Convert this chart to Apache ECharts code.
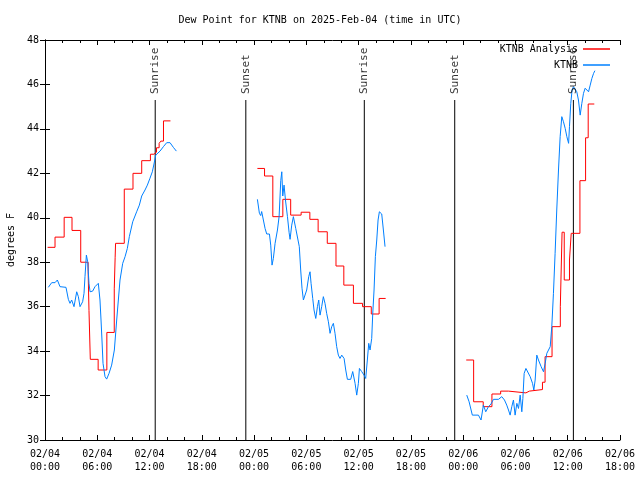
<!DOCTYPE html>
<html>
<head>
<meta charset="utf-8">
<script src="https://cdn.jsdelivr.net/npm/echarts@6/dist/echarts.min.js"></script>
<style>html,body{margin:0;padding:0;background:#fff}#c{width:640px;height:480px}</style>
</head>
<body>
<div id="c"></div>
<script>
// x values are hours since 02/04 00:00 UTC
const xTickLabels = ['02/04\n00:00','02/04\n06:00','02/04\n12:00','02/04\n18:00','02/05\n00:00','02/05\n06:00','02/05\n12:00','02/05\n18:00','02/06\n00:00','02/06\n06:00','02/06\n12:00','02/06\n18:00'];
const yTicks = [30,32,34,36,38,40,42,44,46,48];

const sunHours = [12.65, 23.05, 36.65, 47.03, 60.65];
const sunLabels = ['Sunrise','Sunset','Sunrise','Sunset','Sunrise'];
const sunLineTop = 45.3;

// KTNB Analysis (stepped)
const analysis1 = [[0.3,38.67],[1.15,39.13],[2.2,40.02],[3.1,39.43],[4.1,38.0],[4.95,37.57],[5.05,35.82],[5.2,33.63],[6.1,33.15],[7.1,34.84],[7.95,36.8],[8.05,38.2],[8.1,38.85],[9.1,41.29],[10.1,42.0],[11.1,42.57],[12.1,42.86],[12.5,42.95],[12.8,43.15],[13.1,43.35],[13.3,43.45],[13.6,44.36],[14.4,44.36]];
const analysis2 = [[24.38,42.22],[25.2,41.88],[26.15,40.05],[27.3,40.83],[28.2,40.12],[29.4,40.25],[30.4,39.93],[31.35,39.37],[32.4,38.85],[33.4,37.83],[34.3,36.97],[35.4,36.15],[36.45,36.0],[37.45,35.67],[38.35,36.37],[39.1,36.37]];
const analysis3 = [[48.35,33.6],[49.2,31.72],[50.3,31.5],[51.3,32.07],[52.3,32.2],[53.2,32.12],[55.2,32.2],[55.6,32.27],[57.1,32.6],[57.4,33.75],[58.2,35.1],[59.15,36.0],[59.35,39.35],[59.6,37.2],[60.2,38.1],[60.4,39.3],[61.4,41.67],[62.05,43.6],[62.35,45.12],[63.05,45.12]];

// KTNB observations
const obs1 = [[0.38,36.87],[0.77,37.08],[1.15,37.08],[1.42,37.2],[1.72,36.9],[2.41,36.87],[2.68,36.33],[2.87,36.15],[3.06,36.3],[3.33,36.0],[3.64,36.67],[3.83,36.45],[4.02,36.0],[4.32,36.22],[4.48,36.6],[4.59,37.35],[4.75,38.32],[4.9,38.02],[5.05,37.05],[5.17,36.67],[5.47,36.7],[5.74,36.9],[6.12,37.05],[6.31,36.3],[6.43,35.4],[6.54,34.5],[6.66,33.45],[6.89,32.85],[7.08,32.74],[7.35,33.0],[7.65,33.37],[7.96,34.05],[8.23,35.4],[8.42,36.3],[8.61,37.2],[8.92,37.95],[9.19,38.25],[9.45,38.62],[9.68,39.15],[10.07,39.82],[10.52,40.27],[10.83,40.57],[11.1,40.98],[11.48,41.25],[11.75,41.47],[12.05,41.78],[12.32,42.07],[12.51,42.42],[12.71,42.82],[13.2,43.0],[13.59,43.2],[13.97,43.38],[14.35,43.38],[14.73,43.17],[15.08,43.0]];
const obs2 = [[24.38,40.83],[24.61,40.2],[24.76,40.1],[24.87,40.28],[25.26,39.52],[25.45,39.27],[25.76,39.27],[25.91,38.77],[26.06,37.87],[26.21,38.17],[26.41,38.85],[26.68,39.45],[26.87,40.05],[27.06,41.67],[27.18,42.07],[27.29,40.98],[27.44,41.47],[27.6,40.8],[27.83,40.05],[28.02,39.33],[28.13,39.03],[28.32,39.67],[28.51,40.05],[28.78,39.52],[29.0,39.45],[29.19,38.7],[29.35,37.65],[29.5,36.83],[29.66,36.3],[29.81,36.22],[30.04,36.75],[30.27,37.35],[30.42,37.57],[30.54,37.05],[30.73,36.37],[30.88,35.85],[31.08,35.47],[31.27,36.0],[31.42,36.3],[31.57,35.62],[31.76,36.0],[31.95,36.45],[32.14,36.15],[32.33,35.7],[32.53,35.32],[32.72,34.8],[32.91,35.1],[33.1,35.25],[33.29,34.8],[33.48,34.2],[33.67,33.82],[33.86,33.67],[34.06,33.82],[34.33,33.67],[34.52,33.15],[34.71,32.73],[35.09,32.73],[35.32,33.08],[35.59,32.55],[35.78,32.02],[35.97,32.55],[36.09,33.22],[36.35,33.08],[36.62,32.92],[36.81,32.77],[37.0,33.6],[37.16,34.35],[37.31,34.05],[37.5,34.57],[37.62,35.7],[37.77,36.75],[37.92,38.25],[38.08,39.0],[38.23,39.9],[38.38,40.27],[38.65,40.17],[38.84,39.45],[39.03,38.7]];
const obs3 = [[48.41,32.02],[48.68,31.72],[49.05,31.12],[49.75,31.12],[50.05,30.9],[50.32,31.57],[50.59,31.27],[50.9,31.5],[51.2,31.62],[51.47,31.83],[52.05,31.83],[52.43,31.95],[52.74,31.8],[53.0,31.57],[53.2,31.35],[53.39,31.12],[53.58,31.5],[53.77,31.8],[53.96,31.12],[54.16,31.65],[54.35,31.42],[54.54,32.02],[54.73,31.27],[54.85,31.87],[55.0,33.0],[55.2,33.22],[55.42,33.15],[55.69,32.85],[55.96,32.55],[56.11,32.25],[56.26,32.7],[56.45,33.82],[56.64,33.6],[56.95,33.3],[57.22,33.07],[57.41,33.45],[57.6,33.9],[57.99,34.2],[58.17,35.1],[58.36,36.6],[58.55,38.4],[58.74,40.35],[58.94,42.15],[59.13,43.65],[59.32,44.55],[59.51,44.32],[59.71,44.02],[59.9,43.65],[60.1,43.35],[60.2,44.1],[60.35,45.15],[60.5,45.75],[60.66,45.9],[60.85,45.83],[61.04,45.67],[61.23,45.3],[61.43,44.62],[61.62,45.15],[61.81,45.6],[62.0,45.83],[62.2,45.75],[62.39,45.67],[62.58,45.97],[62.77,46.27],[62.97,46.5],[63.12,46.62]];

const RED = '#ff0000';
const BLUE = '#0080ff';
const FONT = 'DejaVu Sans Mono';

const chart = echarts.init(document.getElementById('c'), null, {renderer: 'canvas'});

function redSeries(d) {
  return {name: 'KTNB Analysis', type: 'line', step: 'end', data: d, symbol: 'none',
    lineStyle: {color: RED, width: 1}, itemStyle: {color: RED}, z: 3};
}
function blueSeries(d) {
  return {name: 'KTNB', type: 'line', data: d, symbol: 'none',
    lineStyle: {color: BLUE, width: 1}, itemStyle: {color: BLUE}, z: 4};
}

const sunLineSeries = sunHours.map(h => ({
  type: 'line', data: [[h, 30], [h, sunLineTop]], symbol: 'none', silent: true,
  lineStyle: {color: '#000', width: 1}, z: 2
}));

const sunLabelSeries = {
  type: 'scatter', symbolSize: 0, silent: true, z: 5,
  data: sunHours.map((h, i) => ({value: [h, sunLineTop], name: sunLabels[i]})),
  label: {show: true, formatter: p => p.name, rotate: 90, position: 'top', distance: 6,
    align: 'left', verticalAlign: 'middle', fontFamily: FONT, fontSize: 11, color: '#000'}
};

const axisCommon = {
  axisLine: {show: true, lineStyle: {color: '#000', width: 1}},
  splitLine: {show: false}
};

chart.setOption({
  animation: false,
  backgroundColor: '#fff',
  title: {text: 'Dew Point for KTNB on 2025-Feb-04 (time in UTC)', left: 'center', top: 10,
    textStyle: {fontFamily: FONT, fontSize: 10, fontWeight: 'normal', color: '#000'}},
  legend: [
    {data: ['KTNB Analysis'], right: 30, top: 44, align: 'right', icon: 'rect', itemWidth: 27, itemHeight: 1.5,
      textStyle: {fontFamily: FONT, fontSize: 10, color: '#000'}, padding: 0},
    {data: ['KTNB'], right: 30, top: 60, align: 'right', icon: 'rect', itemWidth: 27, itemHeight: 1.5,
      textStyle: {fontFamily: FONT, fontSize: 10, color: '#000'}, padding: 0}
  ],
  grid: {left: 45, right: 20, top: 40, bottom: 40, containLabel: false, outerBoundsMode: 'none'},
  xAxis: [
    Object.assign({type: 'value', min: 0, max: 66, interval: 6, position: 'bottom',
      axisTick: {show: true, inside: true, length: 5, lineStyle: {color: '#000'}},
      minorTick: {show: true, splitNumber: 3, length: 3, lineStyle: {color: '#000'}},
      axisLabel: {formatter: v => xTickLabels[Math.round(v / 6)], fontFamily: FONT, fontSize: 10, color: '#000', lineHeight: 13, margin: 8}
    }, axisCommon),
    Object.assign({type: 'value', min: 0, max: 66, interval: 6, position: 'top',
      axisTick: {show: true, inside: true, length: 5, lineStyle: {color: '#000'}},
      minorTick: {show: true, splitNumber: 3, length: 3, lineStyle: {color: '#000'}},
      axisLabel: {show: false}
    }, axisCommon)
  ],
  yAxis: [
    Object.assign({type: 'value', min: yTicks[0], max: yTicks[yTicks.length - 1], interval: 2, position: 'left',
      name: 'degrees F', nameLocation: 'middle', nameGap: 29, nameRotate: 90,
      nameTextStyle: {fontFamily: FONT, fontSize: 10, color: '#000'},
      axisTick: {show: true, inside: true, length: 5, lineStyle: {color: '#000'}},
      axisLabel: {fontFamily: FONT, fontSize: 10, color: '#000', margin: 6}
    }, axisCommon),
    Object.assign({type: 'value', min: yTicks[0], max: yTicks[yTicks.length - 1], interval: 2, position: 'right',
      axisTick: {show: true, inside: true, length: 5, lineStyle: {color: '#000'}},
      axisLabel: {show: false}
    }, axisCommon)
  ],
  series: [
    ...sunLineSeries,
    sunLabelSeries,
    redSeries(analysis1), redSeries(analysis2), redSeries(analysis3),
    blueSeries(obs1), blueSeries(obs2), blueSeries(obs3)
  ]
});
</script>
</body>
</html>
